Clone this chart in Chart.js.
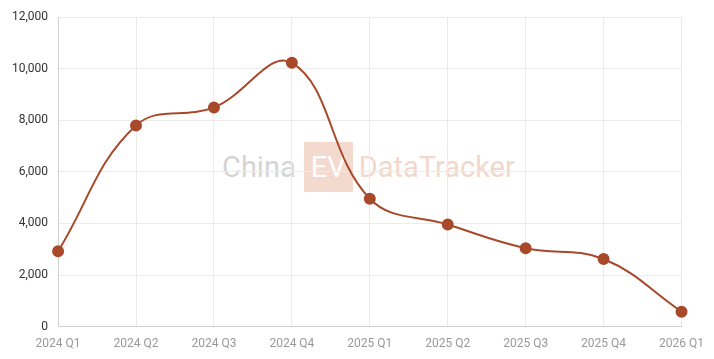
<!DOCTYPE html>
<html><head><meta charset="utf-8">
<script src="https://cdn.jsdelivr.net/npm/chart.js"></script>
<style>
html,body{margin:0;padding:0;background:#fff;overflow:hidden;}
#wrap{position:relative;width:714px;height:359px;overflow:hidden;}
#wm{position:absolute;left:222px;top:142px;height:50px;display:flex;align-items:center;font-family:Roboto,sans-serif;font-size:29px;pointer-events:none;z-index:0;}
#wm .c{color:#d4d4d4;}
#wm .ev{background:#f4d9cf;color:#fff;padding:0 7px;height:50px;line-height:50px;margin:0 6px 0 8px;}
#wm .d{color:#f2d7cc;}
canvas{position:relative;z-index:1;display:block;}
</style></head><body>
<div id="wrap">
<div id="wm"><span class="c">China</span><span class="ev">EV</span><span class="d">DataTracker</span></div>
<canvas id="c" width="714" height="361"></canvas>
</div>
<script>
const categories=["2024 Q1","2024 Q2","2024 Q3","2024 Q4","2025 Q1","2025 Q2","2025 Q3","2025 Q4","2026 Q1"];
const values=[2920,7800,8500,10230,4960,3960,3040,2620,580];
const yTicks=[0,2000,4000,6000,8000,10000,12000];
new Chart(document.getElementById('c'),{
type:'line',
data:{labels:categories,datasets:[{data:values,borderColor:'#a84a2a',backgroundColor:'#a84a2a',borderWidth:2,tension:0.4,pointRadius:5,pointHoverRadius:5,fill:false}]},
options:{responsive:false,animation:false,
layout:{padding:{top:6,right:13,left:2,bottom:0}},
plugins:{legend:{display:false},tooltip:{enabled:false}},
scales:{
x:{grid:{color:'#ebebeb',drawTicks:false},border:{color:'#d0d0d0'},ticks:{color:'#999',padding:10,font:{family:'Roboto',size:12},maxRotation:0}},
y:{min:0,max:12000,afterBuildTicks:(s)=>{s.ticks=yTicks.map(v=>({value:v}));},grid:{color:'#ebebeb',drawTicks:false},border:{color:'#d0d0d0'},ticks:{color:'#333',padding:10,font:{family:'Roboto',size:12},callback:v=>v.toLocaleString('en-US')}}
}}
});
</script>
</body></html>
